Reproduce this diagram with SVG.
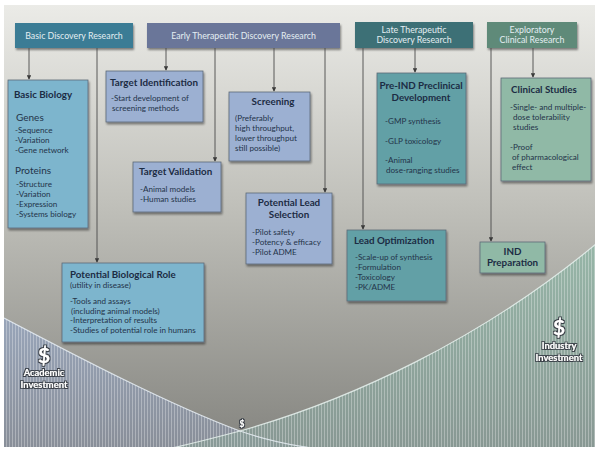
<svg xmlns="http://www.w3.org/2000/svg" width="600" height="452" viewBox="0 0 600 452">
<defs>
<linearGradient id="bg" x1="0" y1="0" x2="0" y2="1">
<stop offset="0" stop-color="#ebebe7"/>
<stop offset="0.45" stop-color="#c0c0ba"/>
<stop offset="1" stop-color="#858580"/>
</linearGradient>
<linearGradient id="acad" x1="0" y1="0" x2="0" y2="1">
<stop offset="0" stop-color="#97a5bc"/>
<stop offset="1" stop-color="#888e99"/>
</linearGradient>
<linearGradient id="ind" x1="0" y1="0" x2="0" y2="1">
<stop offset="0" stop-color="#91b6a6"/>
<stop offset="1" stop-color="#889a96"/>
</linearGradient>
<pattern id="stripes" width="3" height="10" patternUnits="userSpaceOnUse">
<rect x="0" y="0" width="1" height="10" fill="#ffffff" fill-opacity="0.3"/>
</pattern>
<clipPath id="panel"><rect x="4" y="5" width="591" height="442"/></clipPath>
<filter id="sh" x="-10%" y="-10%" width="130%" height="130%">
<feGaussianBlur in="SourceAlpha" stdDeviation="1.2"/>
<feOffset dx="1" dy="1.5" result="b"/>
<feComponentTransfer><feFuncA type="linear" slope="0.45"/></feComponentTransfer>
<feMerge><feMergeNode/><feMergeNode in="SourceGraphic"/></feMerge>
</filter>
<filter id="glow" x="-20%" y="-20%" width="140%" height="140%">
<feMorphology in="SourceAlpha" operator="dilate" radius="0.8" result="d"/>
<feFlood flood-color="#3a4048"/>
<feComposite in2="d" operator="in"/>
<feMerge><feMergeNode/><feMergeNode in="SourceGraphic"/></feMerge>
</filter>
<marker id="arr" viewBox="0 0 6 6" refX="5" refY="3" markerWidth="5" markerHeight="5" orient="auto">
<path d="M0,0 L6,3 L0,6 Z" fill="#3a3a3a"/>
</marker>
<style>
text{font-family:Lato,"Open Sans","Liberation Sans",sans-serif;}
.hd{font-size:8.8px;fill:#e4eef2;text-anchor:middle;}
.t{font-size:9.8px;font-weight:bold;fill:#1c2c44;}
.tc{font-size:9.8px;font-weight:bold;fill:#1c2c44;text-anchor:middle;}
.b{font-size:8.1px;fill:#24344a;}
.s{font-size:10px;fill:#24344a;}
.bx{stroke:#5c6a78;stroke-width:0.8;filter:url(#sh);}
.blue{fill:#7db5cd;}
.peri{fill:#9cb0d2;}
.teal{fill:#62a0a6;}
.green{fill:#90b9a6;}
.ln{stroke:#4a4a4a;stroke-width:0.9;fill:none;}
.ar{marker-end:url(#arr);}
.w{fill:#ffffff;font-weight:bold;text-anchor:middle;filter:url(#glow);}
</style>
</defs>

<rect x="0" y="0" width="600" height="452" fill="#ffffff"/>
<rect x="4" y="5" width="591" height="442" fill="url(#bg)"/>

<g id="investment" clip-path="url(#panel)">
<path d="M4,318 C80,358 170,405 240,431 C280,445 320,450 370,455 L4,455 Z" fill="url(#acad)" fill-opacity="0.9"/>
<path d="M4,318 C80,358 170,405 240,431 C280,445 320,450 370,455 L4,455 Z" fill="url(#stripes)"/>
<path d="M140,455 C180,447 210,439 240,431 C350,400 480,340 596,244 L596,455 Z" fill="url(#ind)" fill-opacity="0.85"/>
<path d="M140,455 C180,447 210,439 240,431 C350,400 480,340 596,244 L596,455 Z" fill="url(#stripes)"/>
<path d="M4,318 C80,358 170,405 240,431 C280,445 320,450 370,455" fill="none" stroke="#e8eef4" stroke-width="1.2" stroke-opacity="0.85"/>
<path d="M140,455 C180,447 210,439 240,431 C350,400 480,340 596,244" fill="none" stroke="#e8f2ee" stroke-width="1.2" stroke-opacity="0.85"/>
</g>

<g id="headers">
<g id="h-basic"><rect x="15" y="23" width="118" height="25" fill="#3b7c95" filter="url(#sh)"/><text class="hd" x="74" y="39">Basic Discovery Research</text></g>
<g id="h-early"><rect x="147" y="23" width="193" height="25" fill="#6b7699" filter="url(#sh)"/><text class="hd" x="243.5" y="39">Early Therapeutic Discovery Research</text></g>
<g id="h-late"><rect x="355" y="22" width="118" height="26" fill="#3e6f76" filter="url(#sh)"/><text class="hd" x="414" y="33">Late Therapeutic</text><text class="hd" x="414" y="43">Discovery Research</text></g>
<g id="h-expl"><rect x="487" y="22" width="90" height="26" fill="#5f8a79" filter="url(#sh)"/><text class="hd" x="532" y="33">Exploratory</text><text class="hd" x="532" y="43">Clinical Research</text></g>
</g>

<g id="connectors">
<line class="ln ar" x1="29" y1="48" x2="29" y2="79"/>
<line class="ln ar" x1="97" y1="48" x2="97" y2="262"/>
<line class="ln ar" x1="166" y1="48" x2="166" y2="70"/>
<line class="ln ar" x1="215" y1="48" x2="215" y2="161"/>
<line class="ln ar" x1="274" y1="48" x2="274" y2="91"/>
<line class="ln ar" x1="325" y1="48" x2="325" y2="192"/>
<line class="ln ar" x1="415" y1="48" x2="415" y2="72"/>
<line class="ln ar" x1="363" y1="48" x2="363" y2="229"/>
<line class="ln ar" x1="533" y1="48" x2="533" y2="77"/>
<line class="ln ar" x1="491" y1="48" x2="491" y2="241"/>
</g>

<g id="basic-biology">
<rect class="bx blue" x="8" y="80" width="80" height="148"/>
<text class="t" x="14" y="98">Basic Biology</text>
<text class="s" x="16" y="121">Genes</text>
<text class="b" x="15" y="133">-Sequence</text>
<text class="b" x="15" y="143">-Variation</text>
<text class="b" x="15" y="153">-Gene network</text>
<text class="s" x="15" y="174">Proteins</text>
<text class="b" x="16" y="187">-Structure</text>
<text class="b" x="16" y="197">-Variation</text>
<text class="b" x="16" y="207">-Expression</text>
<text class="b" x="16" y="217">-Systems biology</text>
</g>

<g id="target-identification">
<rect class="bx peri" x="106" y="71" width="97" height="51"/>
<text class="t" x="110" y="86">Target Identification</text>
<text class="b" x="111" y="101">-Start development of</text>
<text class="b" x="112" y="111">screening methods</text>
</g>

<g id="screening">
<rect class="bx peri" x="229" y="92" width="81" height="69"/>
<text class="tc" x="273" y="105">Screening</text>
<text class="b" x="235" y="121">(Preferably</text>
<text class="b" x="235" y="131">high throughput,</text>
<text class="b" x="235" y="141">lower throughput</text>
<text class="b" x="235" y="151">still possible)</text>
</g>

<g id="target-validation">
<rect class="bx peri" x="133" y="162" width="88" height="50"/>
<text class="t" x="139" y="175">Target Validation</text>
<text class="b" x="140" y="192">-Animal models</text>
<text class="b" x="140" y="202">-Human studies</text>
</g>

<g id="potential-lead-selection">
<rect class="bx peri" x="246" y="193" width="86" height="71"/>
<text class="tc" x="289" y="206">Potential Lead</text>
<text class="tc" x="289" y="218">Selection</text>
<text class="b" x="252" y="235">-Pilot safety</text>
<text class="b" x="252" y="245">-Potency &amp; efficacy</text>
<text class="b" x="252" y="255">-Pilot ADME</text>
</g>

<g id="pre-ind">
<rect class="bx teal" x="377" y="73" width="89" height="111"/>
<text class="tc" x="421" y="89">Pre-IND Preclinical</text>
<text class="tc" x="421" y="101">Development</text>
<text class="b" x="385" y="124">-GMP synthesis</text>
<text class="b" x="385" y="144">-GLP toxicology</text>
<text class="b" x="385" y="163">-Animal</text>
<text class="b" x="386" y="173">dose-ranging studies</text>
</g>

<g id="clinical-studies">
<rect class="bx green" x="501" y="78" width="90" height="103"/>
<text class="t" x="511" y="93">Clinical Studies</text>
<text class="b" x="510" y="110">-Single- and multiple-</text>
<text class="b" x="513" y="120">dose tolerability</text>
<text class="b" x="513" y="130">studies</text>
<text class="b" x="510" y="150">-Proof</text>
<text class="b" x="512" y="160">of pharmacological</text>
<text class="b" x="512" y="170">effect</text>
</g>

<g id="lead-optimization">
<rect class="bx teal" x="347" y="230" width="99" height="71"/>
<text class="t" x="354" y="244">Lead Optimization</text>
<text class="b" x="355" y="260">-Scale-up of synthesis</text>
<text class="b" x="355" y="270">-Formulation</text>
<text class="b" x="355" y="280">-Toxicology</text>
<text class="b" x="355" y="290">-PK/ADME</text>
</g>

<g id="ind-preparation">
<rect class="bx green" x="480" y="242" width="65" height="31"/>
<text class="tc" x="512.5" y="255">IND</text>
<text class="tc" x="512.5" y="266">Preparation</text>
</g>

<g id="potential-biological-role">
<rect class="bx blue" x="62" y="263" width="142" height="79"/>
<text class="t" x="70" y="278">Potential Biological Role</text>
<text class="b" x="70" y="288">(utility in disease)</text>
<text class="b" x="70" y="304">-Tools and assays</text>
<text class="b" x="71" y="314">(including animal models)</text>
<text class="b" x="70" y="323">-Interpretation of results</text>
<text class="b" x="70" y="333">-Studies of potential role in humans</text>
</g>

<g id="labels">
<text class="w" x="44" y="363" font-size="21">$</text>
<text class="w" x="44" y="376" font-size="9.4">Academic</text>
<text class="w" x="44" y="388" font-size="9.4">Investment</text>
<text class="w" x="559" y="335" font-size="21">$</text>
<text class="w" x="559" y="349" font-size="9.4">Industry</text>
<text class="w" x="559" y="361" font-size="9.4">Investment</text>
<text class="w" x="242" y="427" font-size="8.5">$</text>
</g>
</svg>
